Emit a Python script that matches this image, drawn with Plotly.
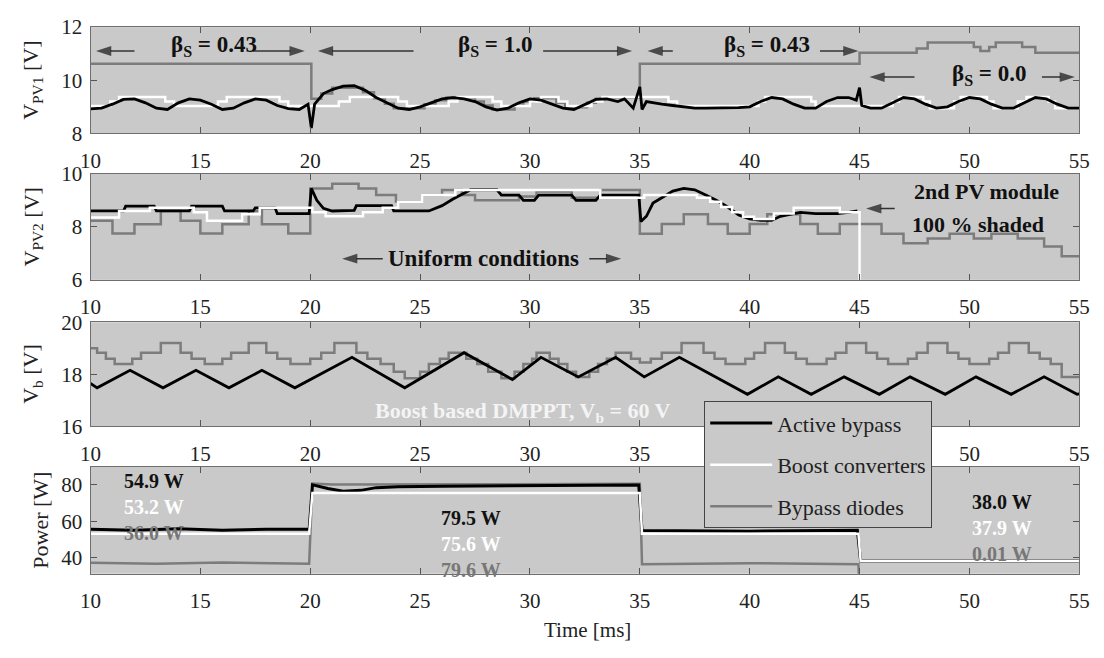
import plotly.graph_objects as go

# ---------------- data ----------------
X_TICKS = [10, 15, 20, 25, 30, 35, 40, 45, 50, 55]

# Panel 1: V_PV1 [V]
T_PV1_ACTIVE = [10, 10.5, 11, 11.5, 12, 12.5, 13, 13.5, 14, 14.5, 15, 15.5, 16, 16.5, 17, 17.5, 18, 18.5, 19, 19.5,
                19.9, 20.05, 20.2, 20.6, 21, 21.5, 22, 22.5, 23, 23.5, 24, 24.5, 25, 25.5, 26, 26.5, 27, 27.5, 28,
                28.5, 29, 29.5, 30, 30.5, 31, 31.5, 32, 32.5, 33, 33.5, 34, 34.3, 34.7, 35.0, 35.1, 35.3, 35.6, 36,
                36.5, 37, 37.5, 38, 38.5, 39, 39.5, 40, 40.5, 41, 41.5, 42, 42.5, 43, 43.5, 44, 44.5, 44.85, 45.0,
                45.1, 45.5, 46, 46.5, 47, 47.5, 48, 48.5, 49, 49.5, 50, 50.5, 51, 51.5, 52, 52.5, 53, 53.5, 54,
                54.5, 55]
V_PV1_ACTIVE = [8.92, 8.95, 9.1, 9.28, 9.3, 9.15, 8.95, 8.9, 9.15, 9.3, 9.25, 9.1, 8.9, 8.95, 9.15, 9.3, 9.25, 9.05,
                8.93, 8.9, 9.1, 8.2, 9.1, 9.5, 9.65, 9.78, 9.8, 9.62, 9.35, 9.15, 8.95, 8.9, 9.0, 9.15, 9.3, 9.35,
                9.3, 9.2, 9.0, 8.88, 8.95, 9.15, 9.3, 9.25, 9.1, 8.95, 8.9, 9.1, 9.28, 9.3, 9.2, 9.3, 8.95, 9.75,
                8.9, 9.2, 9.15, 9.1, 9.05, 9.0, 8.95, 8.95, 8.95, 8.95, 8.97, 9.0, 9.2, 9.35, 9.3, 9.1, 8.95, 8.95,
                9.2, 9.35, 9.35, 9.25, 9.72, 9.05, 8.95, 8.95, 9.15, 9.35, 9.3, 9.1, 8.95, 9.0, 9.2, 9.35, 9.3, 9.1,
                8.95, 8.95, 9.15, 9.35, 9.3, 9.1, 8.95, 8.95]
T_PV1_BOOST = [10, 10.9, 11.3, 13.4, 13.8, 15.8, 16.2, 18.6, 19.0, 21.3, 21.8, 24.0, 24.4, 26.3, 26.7, 28.3, 28.7,
               30.0, 30.5, 31.3, 31.7, 32.8, 33.3, 36.3, 36.7, 40.4, 40.7, 42.8, 43.0, 46.5, 46.8, 47.9, 48.2, 49.3,
               49.6, 50.8, 51.1, 52.2, 52.6, 53.6, 53.9, 55.0]
V_PV1_BOOST = [9.03, 9.2, 9.37, 9.2, 9.03, 9.2, 9.37, 9.2, 9.03, 9.2, 9.37, 9.2, 9.03, 9.2, 9.37, 9.2, 9.03, 9.2,
               9.37, 9.2, 9.03, 9.2, 9.37, 9.2, 9.03, 9.2, 9.37, 9.2, 9.03, 9.2, 9.37, 9.2, 8.95, 9.2, 9.37, 9.2,
               8.95, 9.2, 9.37, 9.2, 8.95, 8.95]
T_PV1_DIODE = [10, 20.05, 20.5, 21.0, 22.4, 22.9, 23.4, 23.8, 25.2, 25.7, 26.2, 27.5, 27.9, 28.3, 29.3, 29.7, 30.2,
               31.2, 31.6, 32.6, 33.0, 33.4, 35.0, 45.0, 47.6, 48.1, 50.2, 50.5, 50.9, 51.2, 52.4, 53.0, 55.0]
V_PV1_DIODE = [10.62, 9.3, 9.5, 9.72, 9.55, 9.32, 9.12, 8.95, 9.1, 9.25, 9.35, 9.2, 9.05, 8.9, 9.05, 9.2, 9.32,
               9.15, 8.98, 9.15, 9.3, 9.35, 10.62, 11.04, 11.2, 11.42, 11.25, 11.1, 11.25, 11.42, 11.25, 11.04, 11.04]

# Panel 2: V_PV2 [V]
T_PV2_ACTIVE = [10, 11.5, 11.6, 12.9, 13.0, 14.5, 14.6, 16.0, 16.1, 17.4, 17.5, 18.4, 18.5, 19.95, 20.05, 20.3,
                20.6, 21.0, 22.0, 22.1, 23.7, 23.8, 25.4, 26.0, 26.5, 27.0, 27.3, 28.5, 28.7, 29.5, 29.7, 30.2,
                30.4, 31.9, 32.1, 33.0, 33.2, 34.95, 35.05, 35.3, 35.6, 36.0, 36.5, 37.0, 37.5, 38.0, 38.5, 39.0,
                39.5, 40.0, 40.5, 41.0, 41.4, 42.0, 42.3, 43.0, 44.0, 44.5, 44.9]
V_PV2_ACTIVE = [8.6, 8.6, 8.78, 8.78, 8.6, 8.6, 8.78, 8.78, 8.6, 8.6, 8.72, 8.72, 8.5, 8.5, 9.45, 9.0, 8.7, 8.6,
                8.62, 8.8, 8.8, 8.6, 8.6, 8.8, 9.05, 9.25, 9.4, 9.4, 9.2, 9.2, 9.0, 9.0, 9.2, 9.2, 9.0, 9.0, 9.2,
                9.2, 8.2, 8.4, 8.9, 9.1, 9.35, 9.45, 9.4, 9.2, 9.0, 8.75, 8.45, 8.3, 8.25, 8.25, 8.4, 8.5, 8.55,
                8.5, 8.5, 8.55, 8.6]
T_PV2_BOOST = [10, 11.3, 12.7, 14.7, 15.3, 16.9, 17.7, 20.1, 20.7, 22.4, 23.3, 24.0, 25.1, 26.6, 33.2, 35.2, 37.6,
               38.2, 38.7, 39.2, 39.7, 40.2, 41.1, 42.0, 44.1, 45.0, 55.0]
V_PV2_BOOST = [8.35, 8.6, 8.72, 8.55, 8.23, 8.48, 8.72, 8.55, 8.4, 8.55, 8.72, 8.95, 9.2, 9.39, 9.1, 9.2, 9.1,
               8.95, 8.75, 8.55, 8.38, 8.3, 8.5, 8.72, 8.55, 0.0, 0.0]
T_PV2_DIODE = [10, 11.0, 12.0, 13.2, 14.1, 15.0, 16.0, 17.2, 17.8, 19.0, 20.0, 21.0, 22.2, 23.0, 23.9, 25.1, 26.0,
               26.9, 27.5, 29.5, 30.3, 31.9, 33.2, 35.0, 36.0, 37.0, 38.1, 39.0, 40.0, 40.8, 42.3, 43.1, 44.1, 46.0,
               47.0, 48.1, 49.1, 50.2, 51.0, 52.2, 53.4, 54.2, 55.0]
V_PV2_DIODE = [8.23, 7.75, 8.1, 8.6, 8.23, 7.75, 8.1, 8.6, 8.1, 7.75, 9.45, 9.63, 9.45, 9.2, 8.96, 9.2, 9.39, 9.2,
               9.0, 9.15, 9.33, 9.1, 9.39, 7.74, 8.11, 8.48, 8.11, 7.74, 8.11, 8.48, 8.11, 7.74, 8.11, 7.74, 7.38,
               7.56, 7.74, 7.56, 7.74, 7.56, 7.26, 6.89, 6.89]

# Panel 3: V_b [V]
T_VB_ACTIVE = [10, 10.3, 11.8, 13.3, 14.8, 16.3, 17.8, 19.3, 21.9, 24.3, 27.0, 29.2, 30.5, 32.2, 33.9, 35.2, 36.8,
               39.9, 41.3, 42.8, 44.3, 45.9, 47.3, 48.9, 50.3, 51.9, 53.4, 54.9, 55]
V_VB_ACTIVE = [17.65, 17.48, 18.15, 17.48, 18.15, 17.48, 18.15, 17.48, 18.65, 17.48, 18.83, 17.8, 18.65, 17.9,
               18.65, 17.9, 18.65, 17.23, 17.9, 17.23, 17.9, 17.23, 17.9, 17.23, 17.9, 17.23, 17.9, 17.23, 17.25]
T_VB_DIODE = [10, 10.3, 10.7, 11.1, 11.9, 12.3, 13.2, 14.1, 14.6, 15.2, 16.0, 16.4, 17.2, 18.0, 18.5, 19.1, 20.0,
              20.5, 21.1, 22.1, 22.6, 23.2, 23.8, 24.3, 25.0, 25.4, 25.9, 26.3, 27.1, 27.6, 28.1, 28.7, 29.3, 29.7,
              30.1, 30.3, 30.9, 31.3, 31.7, 32.1, 32.7, 33.1, 33.5, 33.9, 34.6, 35.0, 35.5, 36.0, 36.9, 37.9, 38.4,
              38.9, 39.8, 40.2, 40.7, 41.6, 42.1, 42.6, 43.5, 43.9, 44.4, 45.3, 45.8, 46.3, 47.2, 47.6, 48.1, 49.0,
              49.5, 50.0, 50.9, 51.3, 51.8, 52.7, 53.2, 53.7, 54.2, 55]
V_VB_DIODE = [19.0, 18.83, 18.6, 18.4, 18.6, 18.83, 19.2, 18.83, 18.6, 18.4, 18.6, 18.83, 19.2, 18.83, 18.6, 18.4,
              18.6, 18.83, 19.2, 18.83, 18.6, 18.4, 18.1, 17.85, 18.1, 18.4, 18.6, 18.83, 18.6, 18.4, 18.1, 17.85,
              18.1, 18.4, 18.6, 18.83, 18.6, 18.4, 18.1, 17.9, 18.1, 18.4, 18.6, 18.83, 18.6, 18.45, 18.6, 18.83,
              19.2, 18.83, 18.6, 18.4, 18.6, 18.83, 19.2, 18.83, 18.6, 18.4, 18.6, 18.83, 19.2, 18.83, 18.6, 18.4,
              18.6, 18.83, 19.2, 18.83, 18.6, 18.4, 18.6, 18.83, 19.2, 18.83, 18.6, 18.4, 17.9, 17.9]

# Panel 4: Power [W]
T_P_ACTIVE = [10, 12, 14, 16, 18, 19.95, 20.1, 20.8, 21.5, 22.3, 23.0, 24.0, 26.0, 30.0, 34.95, 35.1, 40, 44.9,
              45.05, 55]
P_ACTIVE = [55.5, 55.0, 55.8, 55.0, 55.6, 55.5, 80.0, 78.0, 76.5, 77.0, 78.5, 79.0, 79.3, 79.5, 80.0, 54.8, 54.5,
            55.0, 38.0, 38.0]
T_P_BOOST = [10, 19.95, 20.1, 35.0, 35.1, 44.95, 45.05, 55]
P_BOOST = [53.0, 53.0, 75.6, 75.6, 53.0, 53.0, 38.0, 38.0]
T_P_DIODE = [10, 13, 16, 19.95, 20.1, 21, 35.0, 35.1, 40, 44.95, 45.05, 55]
P_DIODE = [37.0, 36.5, 37.2, 36.5, 80.8, 80.2, 80.6, 36.2, 36.8, 36.2, 0.0, 0.0]

SERIES_NAMES = ["Active bypass", "Boost converters", "Bypass diodes"]
POWER_LABELS_A = ["54.9 W", "53.2 W", "36.0 W"]
POWER_LABELS_B = ["79.5 W", "75.6 W", "79.6 W"]
POWER_LABELS_C = ["38.0 W", "37.9 W", "0.01 W"]

# annotation arrows: (panel, tail t, head t, level)
ARROWS = [
    (1, 12.0, 10.25, 11.1), (1, 17.4, 19.75, 11.1), (1, 24.7, 20.35, 11.1), (1, 30.6, 34.65, 11.1),
    (1, 36.5, 35.35, 11.1), (1, 43.2, 44.95, 11.1), (1, 47.5, 45.45, 10.12), (1, 53.3, 54.8, 10.12),
    (2, 23.3, 21.45, 6.8), (2, 32.7, 34.15, 6.8), (2, 46.6, 45.3, 8.69),
]

# ---------------- style ----------------
W, H = 1104, 658
SERIF = "Liberation Serif"
BLACK, WHITE, GRAY = "#000000", "#ffffff", "#7c7c7c"
BG = "#c9c9c9"


def px_y(p):
    return 1 - p / H


XDOM = [82 / W, 1089 / W]
DOMS = [
    [px_y(126), px_y(15.7)],
    [px_y(278), px_y(168)],
    [px_y(430), px_y(322)],
    [px_y(583), px_y(472)],
]
RANGES = [[8, 12], [6, 10], [16, 20], [31, 90]]
YTICKS = [[8, 10, 12], [6, 8, 10], [16, 18, 20], [40, 60, 80]]

fig = go.Figure()


def add(t, v, color, width, k, name, show, rank, shape="linear"):
    sfx = "" if k == 1 else str(k)
    fig.add_trace(go.Scatter(
        x=t, y=v, mode="lines", name=name,
        line=dict(color=color, width=width, shape=shape),
        xaxis="x" + sfx, yaxis="y" + sfx,
        showlegend=show, legendgroup=name, legendrank=rank, hoverinfo="skip"))


# panel 1
add(T_PV1_DIODE, V_PV1_DIODE, GRAY, 2.5, 1, SERIES_NAMES[2], False, 3, "hv")
add(T_PV1_BOOST, V_PV1_BOOST, WHITE, 2.5, 1, SERIES_NAMES[1], False, 2, "hv")
add(T_PV1_ACTIVE, V_PV1_ACTIVE, BLACK, 2.8, 1, SERIES_NAMES[0], False, 1)
# panel 2
add(T_PV2_DIODE, V_PV2_DIODE, GRAY, 2.5, 2, SERIES_NAMES[2], False, 3, "hv")
add(T_PV2_ACTIVE, V_PV2_ACTIVE, BLACK, 2.8, 2, SERIES_NAMES[0], False, 1)
add(T_PV2_BOOST, V_PV2_BOOST, WHITE, 2.5, 2, SERIES_NAMES[1], False, 2, "hv")
# panel 3
add(T_VB_DIODE, V_VB_DIODE, GRAY, 2.5, 3, SERIES_NAMES[2], False, 3, "hv")
add(T_VB_ACTIVE, V_VB_ACTIVE, BLACK, 2.8, 3, SERIES_NAMES[0], False, 1)
# panel 4 (legend entries)
add(T_P_DIODE, P_DIODE, GRAY, 2.5, 4, SERIES_NAMES[2], True, 3)
add(T_P_ACTIVE, P_ACTIVE, BLACK, 3.0, 4, SERIES_NAMES[0], True, 1)
add(T_P_BOOST, P_BOOST, WHITE, 2.5, 4, SERIES_NAMES[1], True, 2)

# arrows drawn as short line traces ending in an arrow marker
for k, t0, t1, lv in ARROWS:
    sfx = "" if k == 1 else str(k)
    fig.add_trace(go.Scatter(
        x=[t0, t1], y=[lv, lv], mode="lines+markers", showlegend=False, hoverinfo="skip",
        xaxis="x" + sfx, yaxis="y" + sfx, cliponaxis=False,
        line=dict(color="#333333", width=1.5),
        marker=dict(symbol="arrow", size=[0, 16], angleref="previous", standoff=0,
                    color="#141414", line=dict(width=0))))

layout = dict(
    width=W, height=H, margin=dict(l=0, r=0, t=0, b=0),
    paper_bgcolor="white", plot_bgcolor=BG,
    font=dict(family=SERIF, size=20, color="#222"),
    legend=dict(x=707 / W, y=px_y(404), xanchor="left", yanchor="top",
                bgcolor=BG, bordercolor="#444", borderwidth=1,
                font=dict(family=SERIF, size=22, color="#222"),
                itemwidth=62, tracegroupgap=10, traceorder="grouped"),
)
axis_common = dict(showline=True, linecolor="#6e6e6e", linewidth=1, mirror="ticks",
                   ticks="inside", ticklen=6, tickcolor="#555", tickwidth=1,
                   showgrid=False, zeroline=False,
                   tickfont=dict(family=SERIF, size=21, color="#222"))
for k in range(1, 5):
    sfx = "" if k == 1 else str(k)
    # in panel 3 the 40 and 45 labels sit under the legend box, as in the original
    ttext = [("" if (k == 3 and v in (40, 45)) else str(v)) for v in X_TICKS]
    layout["xaxis" + sfx] = dict(domain=XDOM, range=[10, 55], anchor="y" + sfx,
                                 tickvals=X_TICKS, ticktext=ttext, ticklabelstandoff=8, **axis_common)
    layout["yaxis" + sfx] = dict(domain=DOMS[k - 1], range=RANGES[k - 1], anchor="x" + sfx,
                                 tickvals=YTICKS[k - 1], ticklabelstandoff=3, **axis_common)

ann = []
# y-axis titles
ytitles = ["V<sub>PV1</sub> [V]", "V<sub>PV2</sub> [V]", "V<sub>b</sub> [V]", "Power [W]"]
ytx = [23, 23, 23, 31]
for i, tt in enumerate(ytitles):
    ann.append(dict(text=tt, xref="paper", yref="paper", x=ytx[i] / W,
                    y=(DOMS[i][0] + DOMS[i][1]) / 2, textangle=-90, showarrow=False,
                    xanchor="center", yanchor="middle", font=dict(size=22, color="#222")))
ann.append(dict(text="Time [ms]", xref="paper", yref="paper", x=588 / W, y=px_y(641),
                showarrow=False, xanchor="center", yanchor="middle", font=dict(size=21, color="#222")))


def label(text, x, y, k, color="#111", size=23):
    sfx = "" if k == 1 else str(k)
    ann.append(dict(text="<b>" + text + "</b>", x=x, y=y, xref="x" + sfx, yref="y" + sfx,
                    showarrow=False, xanchor="center", yanchor="middle",
                    font=dict(size=size, color=color)))


# panel 1 beta labels
label("β<sub>S</sub> = 0.43", 15.6, 11.3, 1)
label("β<sub>S</sub> = 1.0", 28.4, 11.3, 1)
label("β<sub>S</sub> = 0.43", 40.8, 11.3, 1)
label("β<sub>S</sub> = 0.0", 50.9, 10.2, 1)
# panel 2
label("Uniform conditions", 27.9, 6.8, 2)
label("2nd PV module", 50.8, 9.35, 2, size=22)
label("100 % shaded", 50.4, 8.1, 2, size=22)
# panel 3
label("Boost based DMPPT, V<sub>b</sub> = 60 V", 29.7, 16.56, 3, color="#f4f4f4", size=22)

# panel 4: stacked power values, one block per interval
cols = ["#111111", "#ffffff", "#777777"]


def power_block(labels, x, ymid):
    txt = "<br>".join('<span style="color:%s">%s</span>' % (cols[i], labels[i]) for i in range(3))
    ann.append(dict(text="<b>" + txt + "</b>", x=x, y=ymid, xref="x4", yref="y4",
                    showarrow=False, xanchor="center", yanchor="middle", align="center",
                    font=dict(size=20, color="#111")))


power_block(POWER_LABELS_A, 12.9, 67.8)
power_block(POWER_LABELS_B, 27.3, 47.6)
power_block(POWER_LABELS_C, 51.5, 56.5)

layout["annotations"] = ann
fig.update_layout(**layout)
fig.write_html("out.html")
